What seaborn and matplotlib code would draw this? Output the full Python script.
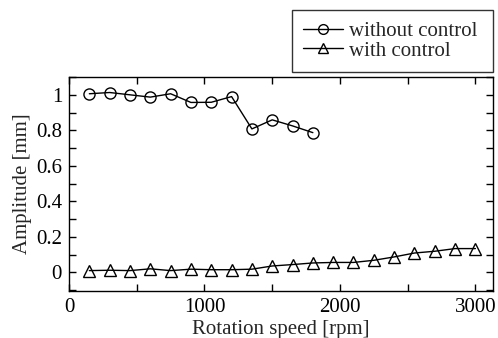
import numpy as np
import pandas as pd
import matplotlib
matplotlib.use('Agg')
import matplotlib.pyplot as plt
import seaborn as sns
from matplotlib.ticker import MultipleLocator

# dati
speed_off = [150, 300, 450, 600, 750, 900, 1050, 1200, 1350, 1500, 1650, 1800]
amp_off = [1.006, 1.013, 1.0, 0.987, 1.006, 0.957, 0.958, 0.99, 0.808, 0.859, 0.825, 0.787]

speed_on = [150, 300, 450, 600, 750, 900, 1050, 1200, 1350, 1500,
            1650, 1800, 1950, 2100, 2250, 2400, 2550, 2700, 2850, 3000]
amp_on = [0.01, 0.012, 0.01, 0.02, 0.01, 0.018, 0.015, 0.015, 0.018, 0.036,
          0.044, 0.053, 0.056, 0.056, 0.068, 0.087, 0.109, 0.119, 0.134, 0.134]

labels = ['without control', 'with control']

sns.set_style('ticks')
plt.rcParams['font.family'] = ['Liberation Serif', 'DejaVu Serif']
plt.rcParams['font.size'] = 15

df_off = pd.DataFrame({'speed': speed_off, 'amp': amp_off})
df_on = pd.DataFrame({'speed': speed_on, 'amp': amp_on})

fig = plt.figure(figsize=(4.98, 3.38), dpi=100)
ax = fig.add_axes([0.1386, 0.139, 0.8514, 0.633])

sns.lineplot(data=df_off, x='speed', y='amp', ax=ax, color='black', lw=1,
             marker='o', markersize=8, markerfacecolor='none',
             markeredgecolor='black', markeredgewidth=1, label=labels[0])
sns.lineplot(data=df_on, x='speed', y='amp', ax=ax, color='black', lw=1,
             marker='^', markersize=9, markerfacecolor='none',
             markeredgecolor='black', markeredgewidth=1, label=labels[1])

ax.set_xlim(0, 3130)
ax.set_ylim(-0.105, 1.1)
ax.xaxis.set_major_locator(MultipleLocator(1000))
ax.xaxis.set_minor_locator(MultipleLocator(500))
ax.yaxis.set_major_locator(MultipleLocator(0.2))
ax.yaxis.set_minor_locator(MultipleLocator(0.1))
ax.yaxis.set_major_formatter(plt.FuncFormatter(lambda v, p: ('%g' % round(v, 1))))
ax.tick_params(which='both', direction='in', top=True, right=True, width=1,
               labelsize=15, colors='black')
ax.tick_params(axis='x', pad=5)
ax.tick_params(axis='y', pad=5)
ax.tick_params(which='major', length=5)
ax.tick_params(which='minor', length=5)
for s in ax.spines.values():
    s.set_linewidth(1)
    s.set_color('black')

ax.set_xlabel('Rotation speed [rpm]', fontsize=15, labelpad=2)
ax.set_ylabel('Amplitude [mm]', fontsize=15, labelpad=3)

handles, lbls = ax.get_legend_handles_labels()
ax.get_legend().remove()
leg = fig.legend(handles, lbls, loc='upper left',
                 bbox_to_anchor=(292 / 498, 1 - 72 / 338, 201 / 498, 62 / 338),
                 mode='expand', fontsize=15, frameon=True, fancybox=False,
                 edgecolor='black', handlelength=1.9, handletextpad=0.3,
                 borderpad=0.55, labelspacing=0.0, borderaxespad=0)
leg.get_frame().set_linewidth(1)
for h in leg.legend_handles:
    h.set_markersize(7)

fig.savefig('out.png', dpi=100)
